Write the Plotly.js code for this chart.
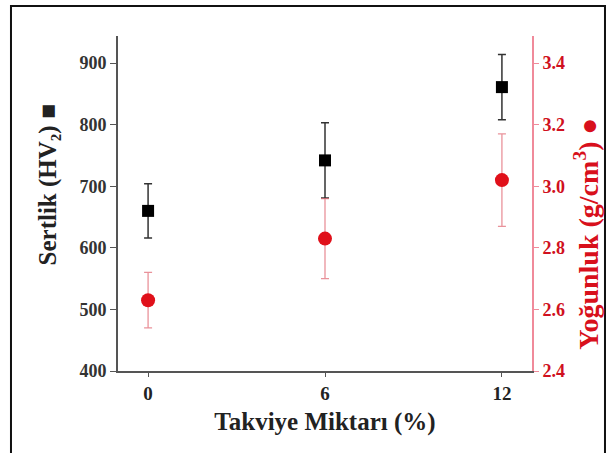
<!DOCTYPE html>
<html>
<head>
<meta charset="utf-8">
<script src="https://cdn.plot.ly/plotly-3.0.1.min.js"></script>
<style>
  html, body { margin: 0; padding: 0; background: #fff; }
  #chart { width: 606px; height: 453px; }
</style>
</head>
<body>
<div id="chart"></div>
<script>
// Data
const reinforcement = [0, 6, 12];               // Takviye Miktarı (%)
const hardness = [660, 742, 861];               // Sertlik (HV2)
const hardnessErr = [44, 61, 53];
const density = [2.63, 2.83, 3.02];             // Yoğunluk (g/cm3)
const densityErr = [0.09, 0.13, 0.15];
const xTicks = [0, 6, 12];
const yTicks = [400, 500, 600, 700, 800, 900];
const y2Ticks = [2.4, 2.6, 2.8, 3.0, 3.2, 3.4];
const xTitle = 'Takviye Miktarı (%)';
const yTitle = 'Sertlik (HV₂) ■';
const y2Title = 'Yoğunluk (g/cm<sup>3</sup>) ●';

const FONT = 'Liberation Serif, Times New Roman, serif';
const RED = '#e0101a';

const traces = [
  {
    x: reinforcement, y: hardness, type: 'scatter', mode: 'markers',
    marker: { symbol: 'square', size: 12, color: '#000' },
    error_y: { type: 'data', array: hardnessErr, visible: true, color: '#333', thickness: 1.5, width: 4 },
    yaxis: 'y', showlegend: false
  },
  {
    x: reinforcement, y: density, type: 'scatter', mode: 'markers',
    marker: { symbol: 'circle', size: 14, color: RED },
    error_y: { type: 'data', array: densityErr, visible: true, color: 'rgba(225,110,120,0.75)', thickness: 1.3, width: 4 },
    yaxis: 'y2', showlegend: false
  }
];

const layout = {
  width: 606, height: 453,
  margin: { l: 118, r: 74, t: 36, b: 82 },
  paper_bgcolor: '#fff', plot_bgcolor: '#fff',
  font: { family: FONT, color: '#222' },
  showlegend: false,
  xaxis: {
    range: [-1.02, 13.02], tickvals: xTicks, ticktext: xTicks.map(String),
    ticks: 'outside', ticklen: 4, tickwidth: 1, tickcolor: '#555',
    showline: true, linecolor: '#555', linewidth: 2, showgrid: false, zeroline: false,
    tickfont: { family: FONT, size: 19, weight: 'bold', color: '#222' },
    title: { text: xTitle, font: { family: FONT, size: 25, weight: 'bold', color: '#222' }, standoff: 10 }
  },
  yaxis: {
    range: [400, 944], tickvals: yTicks,
    ticks: 'outside', ticklen: 6, tickwidth: 1, tickcolor: '#555',
    showline: true, linecolor: '#555', linewidth: 2, showgrid: false, zeroline: false,
    tickfont: { family: FONT, size: 18, weight: 'bold', color: '#333' }
  },
  yaxis2: {
    range: [2.4, 3.488], tickvals: y2Ticks, ticktext: y2Ticks.map(v => v.toFixed(1)),
    overlaying: 'y', side: 'right',
    ticks: 'outside', ticklen: 5, tickwidth: 1, tickcolor: '#f08a9a',
    showline: true, linecolor: '#f08a9a', linewidth: 2, showgrid: false, zeroline: false,
    tickfont: { family: FONT, size: 18, weight: 'bold', color: '#d01020' }
  },
  annotations: [
    { text: yTitle, xref: 'paper', yref: 'paper', x: -0.169, y: 0.554, xanchor: 'center', yanchor: 'middle',
      textangle: -90, showarrow: false, font: { family: FONT, size: 25, weight: 'bold', color: '#222' } },
    { text: y2Title, xref: 'paper', yref: 'paper', x: 1.1329, y: 0.41, xanchor: 'center', yanchor: 'middle',
      textangle: -90, showarrow: false, font: { family: FONT, size: 28, weight: 'bold', color: '#d8101c' } }
  ],
  shapes: [
    { type: 'rect', xref: 'paper', yref: 'paper', x0: -0.2585, x1: 1.1763, y0: -0.3, y1: 1.0896,
      line: { color: '#111', width: 2 }, fillcolor: 'rgba(0,0,0,0)', layer: 'below' }
  ]
};

Plotly.newPlot('chart', traces, layout, { displayModeBar: false, staticPlot: true });
</script>
</body>
</html>
